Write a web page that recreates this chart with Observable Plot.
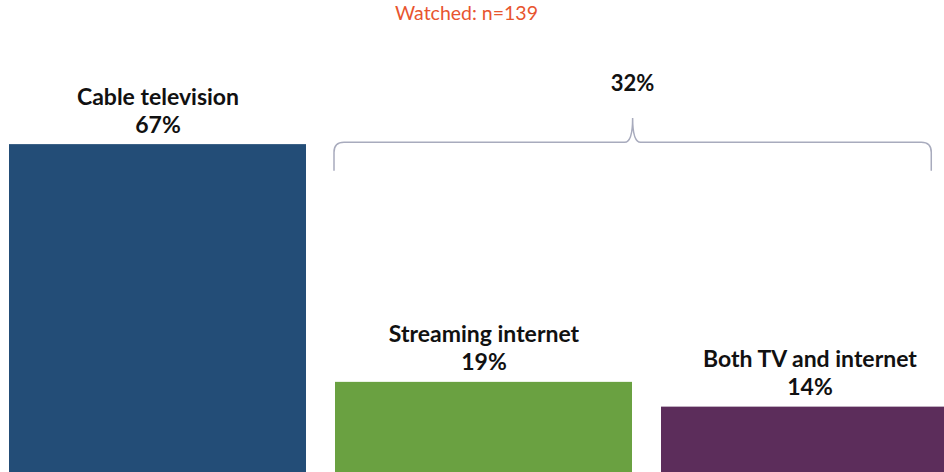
<!DOCTYPE html>
<html>
<head>
<meta charset="utf-8">
<script src="https://cdn.jsdelivr.net/npm/d3@7"></script>
<script src="https://cdn.jsdelivr.net/npm/@observablehq/plot@0.6"></script>
<style>
  html, body { margin: 0; padding: 0; background: #fff; overflow: hidden; }
  #chart svg { display: block; }
</style>
</head>
<body>
<div id="chart"></div>
<script>
// ---- data ----
const categories = ["Cable television", "Streaming internet", "Both TV and internet"];
const values = [67, 19, 14];
const colors = ["#234d77", "#6aa141", "#5c2d5b"];
const braceGroup = ["Streaming internet", "Both TV and internet"];
const braceLabel = "32%";
const title = "Watched: n=139";

const data = categories.map((c, i) => ({category: c, value: values[i], color: colors[i]}));

// ---- layout constants (data units on y) ----
const braceLineY = 67.4, braceEndY = 61.6, braceTipY = 72.3, braceLabelY = 78.9;
const FONT = "Lato, 'Open Sans', sans-serif";

function brace(index, scales) {
  const sx = scales.x, sy = scales.y;
  const bw = typeof sx.bandwidth === "function" ? sx.bandwidth() : sx.bandwidth;
  const x0 = sx(braceGroup[0]) - 1;
  const x1 = sx(braceGroup[1]) + bw * 0.91;
  const xm = (x0 + x1) / 2;
  const yl = sy(braceLineY), ye = sy(braceEndY), yt = sy(braceTipY);
  const r = 10;
  const d = `M${x0},${ye} L${x0},${yl + r} Q${x0},${yl} ${x0 + r},${yl} ` +
            `L${xm - 8},${yl} Q${xm},${yl} ${xm},${yt} Q${xm},${yl} ${xm + 8},${yl} ` +
            `L${x1 - r},${yl} Q${x1},${yl} ${x1},${yl + r} L${x1},${ye}`;
  const g = d3.create("svg:g");
  g.append("path").attr("d", d).attr("fill", "none")
    .attr("stroke", "#a8abbd").attr("stroke-width", 1.5);
  g.append("text").attr("x", xm).attr("y", sy(braceLabelY))
    .attr("text-anchor", "middle").attr("dominant-baseline", "middle")
    .attr("font-family", FONT).attr("font-weight", "bold").attr("font-size", 22)
    .attr("fill", "#111").text(braceLabel);
  return g.node();
}

const chart = Plot.plot({
  width: 944,
  height: 472,
  margin: 0,
  style: {fontFamily: FONT, background: "#fff", overflow: "hidden"},
  x: {domain: categories, range: [8.3, 958], paddingInner: 0.089, paddingOuter: 0, axis: null},
  y: {domain: [0.8, 96.1], range: [472, 0], axis: null},
  marks: [
    Plot.barY(data, {x: "category", y: "value", fill: "color"}),
    Plot.text(data, {
      x: "category", y: "value",
      text: d => `${d.category}\n${d.value}%`,
      lineAnchor: "bottom", lineHeight: 1.22, dy: -12,
      fontSize: 23, fontWeight: "bold", fill: "#111"
    }),
    brace,
    Plot.text([title], {
      frameAnchor: "top", dy: 6, dx: -6, lineAnchor: "top",
      text: d => d, fontSize: 19.5, fill: "#e8552f"
    })
  ]
});
document.getElementById("chart").appendChild(chart);
</script>
</body>
</html>
